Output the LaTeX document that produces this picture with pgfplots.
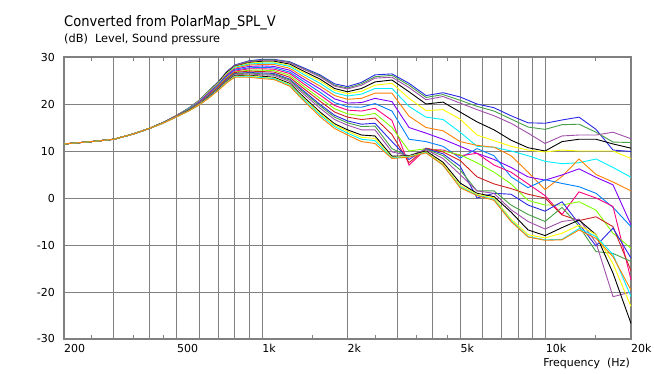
\documentclass[border=0pt]{standalone}
\usepackage{pgfplots}
\pgfplotsset{compat=1.18}
\usepackage{pgfplotstable}
\usepackage{fontspec}
\setmainfont{DejaVu Sans}
\newfontfamily\condfont{DejaVu Sans Condensed}
\definecolor{cA}{RGB}{40,40,230}
\definecolor{cB}{RGB}{70,160,70}
\definecolor{cC}{RGB}{160,80,170}
\definecolor{cD}{RGB}{0,0,0}
\definecolor{cE}{RGB}{255,255,0}
\definecolor{cF}{RGB}{0,240,255}
\definecolor{cG}{RGB}{255,128,0}
\definecolor{cH}{RGB}{128,0,255}
\definecolor{cI}{RGB}{0,128,255}
\definecolor{cJ}{RGB}{255,0,128}
\definecolor{cK}{RGB}{128,255,0}
\definecolor{cL}{RGB}{208,32,32}
\definecolor{gridgray}{RGB}{128,128,128}
\pgfplotstableread{
f c0 c1 c2 c3 c4 c5 c6 c7 c8 c9 c10 c11 c12 c13 c14 c15 c16 c17 c18
200 11.5 11.5 11.5 11.5 11.5 11.5 11.5 11.5 11.5 11.5 11.5 11.5 11.5 11.5 11.5 11.5 11.5 11.5 11.5
250 12.0 12.0 12.0 12.0 12.0 12.0 12.0 12.0 12.0 12.0 12.0 12.0 12.0 12.0 12.0 12.0 12.0 12.0 12.0
300 12.5 12.5 12.5 12.5 12.5 12.5 12.5 12.5 12.5 12.5 12.5 12.5 12.5 12.5 12.5 12.5 12.5 12.5 12.5
350 13.6 13.6 13.6 13.6 13.6 13.6 13.6 13.6 13.6 13.6 13.6 13.6 13.6 13.6 13.6 13.6 13.6 13.6 13.6
400 14.8 14.8 14.8 14.8 14.8 14.8 14.8 14.8 14.8 14.8 14.8 14.8 14.8 14.8 14.8 14.8 14.8 14.8 14.8
450 16.1 16.1 16.1 16.1 16.1 16.1 16.1 16.1 16.1 16.1 16.1 16.1 16.1 16.1 16.0 16.0 16.0 16.0 16.0
500 17.6 17.6 17.6 17.6 17.6 17.5 17.5 17.5 17.5 17.5 17.4 17.4 17.4 17.4 17.4 17.3 17.3 17.3 17.3
550 19.1 19.1 19.1 19.0 19.0 19.0 18.9 18.9 18.9 18.8 18.8 18.7 18.7 18.7 18.6 18.6 18.5 18.5 18.5
600 20.8 20.8 20.8 20.7 20.7 20.6 20.5 20.5 20.4 20.3 20.2 20.2 20.1 20.1 20.0 19.9 19.9 19.8 19.8
650 22.9 22.9 22.8 22.7 22.7 22.6 22.5 22.4 22.2 22.1 22.0 21.9 21.8 21.7 21.6 21.5 21.4 21.4 21.3
700 24.7 24.7 24.6 24.5 24.4 24.3 24.2 24.1 24.0 23.8 23.7 23.6 23.4 23.4 23.3 23.1 23.0 23.0 22.9
750 26.9 26.8 26.8 26.7 26.5 26.4 26.3 26.1 25.9 25.7 25.6 25.4 25.2 25.1 25.0 24.8 24.7 24.6 24.5
800 28.3 28.2 28.2 28.0 27.9 27.8 27.6 27.4 27.2 27.0 26.8 26.7 26.5 26.4 26.2 26.0 25.9 25.8 25.7
900 29.2 29.1 29.0 28.8 28.7 28.5 28.3 28.0 27.7 27.5 27.2 27.0 26.7 26.6 26.4 26.1 26.0 25.8 25.7
1000 29.5 29.4 29.3 29.1 28.9 28.7 28.4 28.1 27.8 27.5 27.2 26.9 26.6 26.4 26.2 25.9 25.7 25.6 25.4
1100 29.5 29.4 29.3 29.1 28.9 28.7 28.4 28.0 27.7 27.4 27.1 26.8 26.5 26.3 26.1 25.7 25.5 25.4 25.2
1250 29.0 28.9 28.8 28.5 28.2 28.0 27.6 27.2 26.8 26.5 26.1 25.7 25.3 25.1 24.8 24.4 24.2 24.0 23.8
1400 27.7 27.5 27.4 27.0 26.7 26.3 25.8 25.3 24.8 24.3 23.8 23.3 22.8 22.5 22.1 21.5 21.2 21.0 20.7
1600 26.2 26.0 25.8 25.3 24.9 24.4 23.8 23.2 22.5 21.9 21.2 20.6 19.9 19.6 19.1 18.3 18.0 17.7 17.3
1800 24.3 24.0 23.8 23.3 22.9 22.4 21.8 21.1 20.3 19.7 19.0 18.3 17.6 17.2 16.7 15.8 15.5 15.2 14.8
2000 23.7 23.4 23.2 22.6 22.2 21.7 21.0 20.2 19.4 18.7 17.9 17.2 16.4 16.0 15.5 14.5 14.2 13.8 13.4
2240 24.6 24.3 24.0 23.3 22.7 22.1 21.2 20.3 19.3 18.5 17.5 16.7 15.7 15.2 14.5 13.4 12.9 12.5 12.0
2500 26.2 25.8 25.5 24.7 24.0 23.3 22.3 21.2 20.1 19.1 18.0 17.0 15.9 15.3 14.5 13.2 12.7 12.2 11.6
2870 26.4 26.1 25.7 25.1 24.4 23.3 22.3 20.5 18.5 16.5 15.0 13.5 12.0 10.5 9.8 8.9 8.6 8.5 8.4
3296 24.4 24.0 23.5 22.6 21.2 19.5 17.4 15.0 12.5 7.0 10.0 7.5 8.2 8.8 9.0 9.0 8.9 8.8 8.7
3784 21.8 21.4 20.9 20.0 18.6 17.2 15.0 13.8 12.0 10.4 10.5 10.6 10.5 10.4 10.3 10.0 9.8 9.7 9.6
4344 22.4 22.0 21.6 20.4 18.8 16.7 14.3 12.5 11.0 10.2 10.0 9.8 9.4 9.0 8.4 7.6 7.2 7.0 7.0
4988 21.5 20.8 20.2 18.3 16.8 14.0 12.0 11.0 8.5 9.0 9.2 8.0 6.8 6.0 5.0 3.2 2.7 2.4 2.2
5726 20.0 19.5 18.8 16.2 13.4 11.0 11.2 9.5 10.5 9.5 7.5 4.5 0.0 1.5 1.5 1.0 0.8 0.6 0.5
6574 19.2 18.5 17.5 14.5 12.2 10.8 10.8 8.2 9.0 7.0 5.5 3.0 1.0 1.5 1.0 0.3 0.0 -0.3 -0.5
7548 17.5 16.8 15.9 12.3 11.0 10.0 9.0 6.5 4.5 5.5 3.0 2.0 0.8 -1.5 -2.5 -3.0 -4.5 -4.8 -5.0
8666 16.0 15.1 13.8 10.7 10.2 9.0 5.5 4.5 2.2 3.0 -0.5 0.8 -1.5 -3.5 -5.0 -6.8 -7.8 -8.2 -8.3
9948 15.9 14.6 11.6 10.0 9.8 7.8 1.8 3.8 3.9 0.5 -1.5 0.0 -2.8 -5.0 -6.6 -8.0 -8.5 -8.9 -9.0
11420 16.6 15.6 13.2 12.0 10.2 7.3 4.6 4.9 3.1 -3.5 -1.5 -3.6 -0.8 -2.0 -5.0 -6.3 -7.5 -8.8 -8.9
13110 17.2 15.7 13.4 12.5 10.0 7.5 8.3 6.2 2.4 1.3 -0.8 -4.8 -5.5 -6.0 -4.5 -4.7 -5.8 -6.5 -6.8
15050 14.6 14.0 13.4 12.5 10.0 8.3 5.0 4.4 1.0 0.0 -2.6 -4.0 -10.2 -11.4 -9.5 -7.8 -7.8 -8.2 -8.6
17280 10.2 11.9 14.0 11.5 10.0 6.5 3.4 2.8 -2.0 -1.8 -7.5 -6.1 -6.4 -11.8 -21.0 -16.0 -14.0 -12.0 -12.5
20000 9.9 11.8 12.6 10.6 8.4 4.4 1.5 -5.7 -6.1 -17.4 -10.7 -15.5 -12.8 -13.5 -20.0 -26.7 -23.1 -21.0 -19.6
}\spl
\begin{document}
\begin{tikzpicture}
\path[use as bounding box] (0pt,0pt) rectangle (654pt,374pt);
\begin{axis}[
  at={(64pt,35pt)}, anchor=south west,
  scale only axis, width=567pt, height=282pt,
  xmode=log, xmin=200, xmax=20000, ymin=-30, ymax=30,
  axis line style={draw=gridgray, line width=1.2pt},
  xtick={200,500,1000,2000,5000,10000,20000},
  xticklabels={200,500,1k,2k,5k,10k,20k},
  extra x ticks={300,400,600,700,800,900,3000,4000,6000,7000,8000,9000},
  extra x tick labels={},
  extra x tick style={grid=major, major tick length=0pt},
  minor xtick={250,350,450,1500,2500,3500,4500,15000},
  ytick={-30,-20,-10,0,10,20,30},
  xtick pos=both, ytick pos=left,
  tick align=inside,
  major tick length=0pt, minor tick length=4pt,
  minor tick style={draw=gridgray, line width=0.8pt},
  grid=major,
  major grid style={draw=gridgray, line width=0.9pt},
  ticklabel style={font=\fontsize{11}{13}\selectfont},
  /pgf/number format/assume math mode=true,
  xticklabel style={anchor=north west, inner sep=0pt, yshift=-5pt},
  yticklabel style={anchor=east, inner sep=0pt, xshift=-9pt},
  log ticks with fixed point,
  every axis plot/.append style={line width=0.9pt, no markers},
]
\addplot[cA] table[x=f,y=c0]{\spl};
\addplot[cB] table[x=f,y=c1]{\spl};
\addplot[cC] table[x=f,y=c2]{\spl};
\addplot[cD] table[x=f,y=c3]{\spl};
\addplot[cE] table[x=f,y=c4]{\spl};
\addplot[cF] table[x=f,y=c5]{\spl};
\addplot[cG] table[x=f,y=c6]{\spl};
\addplot[cH] table[x=f,y=c7]{\spl};
\addplot[cI] table[x=f,y=c8]{\spl};
\addplot[cJ] table[x=f,y=c9]{\spl};
\addplot[cK] table[x=f,y=c10]{\spl};
\addplot[cL] table[x=f,y=c11]{\spl};
\addplot[cA] table[x=f,y=c12]{\spl};
\addplot[cB] table[x=f,y=c13]{\spl};
\addplot[cC] table[x=f,y=c14]{\spl};
\addplot[cD] table[x=f,y=c15]{\spl};
\addplot[cE] table[x=f,y=c16]{\spl};
\addplot[cF] table[x=f,y=c17]{\spl};
\addplot[cG] table[x=f,y=c18]{\spl};
\end{axis}
\node[anchor=base west, inner sep=0pt, font=\condfont\fontsize{14.5}{16}\selectfont] at (64pt,347.3pt) {Converted from PolarMap\_SPL\_V};
\node[anchor=base west, inner sep=0pt, font=\fontsize{11.3}{13}\selectfont] at (64pt,331.7pt) {(dB)\ \ Level, Sound pressure};
\node[anchor=base east, inner sep=0pt, font=\fontsize{11}{13}\selectfont] at (630pt,7.5pt) {Frequency\ \ (Hz)};
\end{tikzpicture}
\end{document}
